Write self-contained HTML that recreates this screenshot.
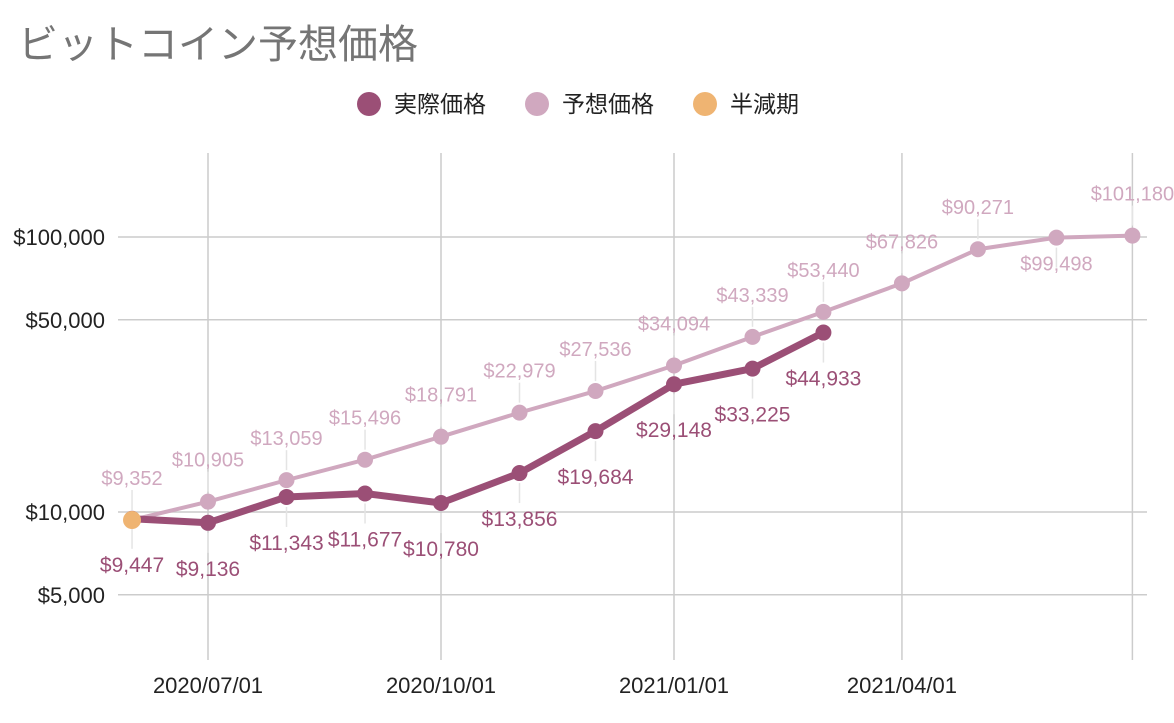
<!DOCTYPE html>
<html><head><meta charset="utf-8"><style>
body{margin:0;background:#fff;width:1174px;height:718px;overflow:hidden;font-family:"Liberation Sans","Noto Sans CJK JP",sans-serif}
</style></head><body>
<svg id="chart" width="1174" height="718" xmlns="http://www.w3.org/2000/svg" font-family="Liberation Sans, Noto Sans CJK JP, sans-serif">
<text x="18" y="58" font-size="40" fill="#757575">ビットコイン予想価格</text>
<g>
<g><circle cx="369" cy="104" r="12" fill="#9b4f76"/><text x="394" y="112" font-size="23" fill="#222">実際価格</text></g>
<g><circle cx="537" cy="104" r="12" fill="#d0a8bf"/><text x="562" y="112" font-size="23" fill="#222">予想価格</text></g>
<g><circle cx="705" cy="104" r="12" fill="#efb472"/><text x="730" y="112" font-size="23" fill="#222">半減期</text></g>
</g>
<g id="grid"></g><g id="marks"></g>
</svg>
<script>
const dates=["2020-06-01","2020-07-01","2020-08-01","2020-09-01","2020-10-01","2020-11-01","2020-12-01","2021-01-01","2021-02-01","2021-03-01","2021-04-01","2021-05-01","2021-06-01","2021-07-01"];
const actual=[9447,9136,11343,11677,10780,13856,19684,29148,33225,44933];
const forecast=[9352,10905,13059,15496,18791,22979,27536,34094,43339,53440,67826,90271,99498,101180];
const halvingDate="2020-06-01";
const halvingValue=9352;
const yTicks=[5000,10000,50000,100000];
const yTickLabels=["$5,000","$10,000","$50,000","$100,000"];
const xTicks=["2020-07-01","2020-10-01","2021-01-01","2021-04-01","2021-07-01"];
const xTickLabels=["2020/07/01","2020/10/01","2021/01/01","2021/04/01",""];
const NS="http://www.w3.org/2000/svg";
const t0=Date.parse("2020-07-01"),t1=Date.parse("2020-10-01");
function x(d){return 208+(Date.parse(d)-t0)/(t1-t0)*233;}
function y(v){return 512-Math.log10(v/10000)*275;}
function el(tag,attrs,parent){const e=document.createElementNS(NS,tag);for(const k in attrs)e.setAttribute(k,attrs[k]);parent.appendChild(e);return e;}
const grid=document.getElementById('grid'),marks=document.getElementById('marks');
function fmt(v){return "$"+v.toLocaleString("en-US");}
yTicks.forEach((v,i)=>{
 const l=el('line',{x1:118,x2:1147,y1:y(v),y2:y(v),stroke:'#ccc','stroke-width':1.5},grid);
 
 
 const t=el('text',{x:105,y:y(v)+8,'text-anchor':'end','font-size':22,fill:'#222'},grid);
 t.textContent=yTickLabels[i];
 
 
});
xTicks.forEach((d,i)=>{
 const l=el('line',{x1:x(d),x2:x(d),y1:153,y2:660,stroke:'#ccc','stroke-width':1.5},grid);
 
 
 const t=el('text',{x:x(d),y:693,'text-anchor':'middle','font-size':22,fill:'#222'},grid);
 t.textContent=xTickLabels[i];
 
 
});
function series(vals,color,w,r,name,above){
 const pts=vals.map((v,i)=>[x(dates[i]),y(v)]);
 vals.forEach((v,i)=>{
  const [px,py]=pts[i];
  let up=above; if(name==='forecast'&&v===99498)up=false;
  const ld=el('line',{x1:px,x2:px,y1:up?py-30:py+10,y2:up?py-10:py+30,stroke:'#e4e4e4','stroke-width':1.5},marks);
  
  
  const t=el('text',{x:px,y:up?py-35:py+(name==='actual'?53:33),'text-anchor':'middle','font-size':name==='actual'?21:20,fill:color},marks);
  t.textContent=fmt(v);
  
  
 });
 const p=el('polyline',{points:pts.map(p=>p.join(',')).join(' '),fill:'none',stroke:color,'stroke-width':w,'stroke-linejoin':'round'},marks);
 
 
 pts.forEach(([px,py])=>{
  const c=el('circle',{cx:px,cy:py,r:r,fill:color},marks);
  
  
 });
}
series(forecast,'#d0a8bf',4,8,'forecast',true);
series(actual,'#9b4f76',7,8,'actual',false);
const h=el('circle',{cx:x(halvingDate),cy:y(halvingValue),r:9,fill:'#efb472'},marks);


</script>
</body></html>
